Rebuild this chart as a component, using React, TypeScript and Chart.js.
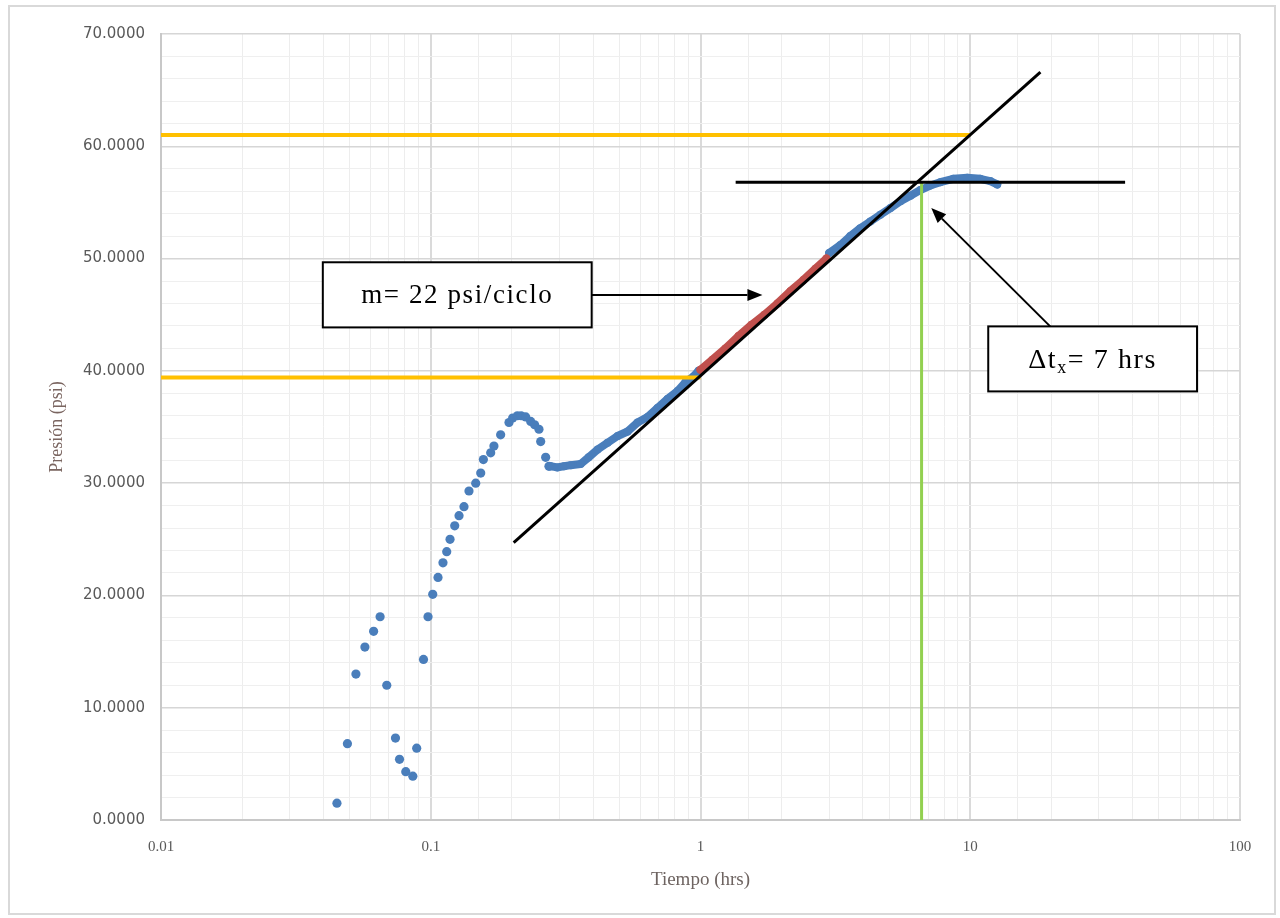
import React, { useEffect, useRef } from 'react';
import { Chart, registerables } from 'chart.js';

Chart.register(...registerables);

// ---- Data ----
// Early, scattered measurements (hrs, psi)
const earlyTime = [0.0449, 0.0491, 0.0528, 0.057, 0.0614, 0.0649, 0.0687, 0.074, 0.0766, 0.0808, 0.0858, 0.0887, 0.094, 0.0977, 0.1017, 0.1064, 0.111, 0.1146, 0.1179, 0.1227, 0.1273, 0.1328, 0.1386, 0.1468, 0.1532, 0.1567, 0.1668, 0.1715, 0.1816, 0.195, 0.2012, 0.2095, 0.2163, 0.2249, 0.2347, 0.2427, 0.2519, 0.2556, 0.2667, 0.2743];
const earlyPressure = [1.5, 6.8, 13.0, 15.4, 16.8, 18.1, 12.0, 7.3, 5.4, 4.3, 3.9, 6.4, 14.3, 18.1, 20.1, 21.6, 22.9, 23.9, 25.0, 26.2, 27.1, 27.9, 29.3, 30.0, 30.9, 32.1, 32.7, 33.3, 34.3, 35.4, 35.8, 36.0, 36.0, 35.9, 35.5, 35.2, 34.8, 33.7, 32.3, 31.5];

// Dense blue section before the straight-line period
const denseTime = [0.2783, 0.2946, 0.3117, 0.3301, 0.3594, 0.3848, 0.4155, 0.4524, 0.4929, 0.5367, 0.5843, 0.6364, 0.6928, 0.7546, 0.8219, 0.8799, 0.9421, 0.9831];
const densePressure = [31.5, 31.4, 31.5, 31.6, 31.7, 32.3, 33.0, 33.6, 34.2, 34.6, 35.4, 35.9, 36.7, 37.5, 38.2, 39.0, 39.5, 40.0];

// Red section used for the slope
const redTime = [1.0, 1.108, 1.238, 1.383, 1.545, 1.726, 1.928, 2.154, 2.406, 2.667, 2.929];
const redPressure = [40.1, 41.0, 42.0, 43.1, 44.1, 45.0, 46.0, 47.1, 48.1, 49.1, 50.0];

// Late blue section
const lateTime = [3.0, 3.3, 3.59, 3.91, 4.26, 4.64, 5.06, 5.51, 6.0, 6.53, 7.11, 7.74, 8.65, 9.75, 10.89, 11.86, 12.59];
const latePressure = [50.5, 51.2, 52.0, 52.7, 53.3, 53.9, 54.5, 55.1, 55.6, 56.1, 56.5, 56.8, 57.1, 57.2, 57.1, 56.9, 56.6];

// Straight-line fit (m = 22 psi/ciclo)
const fitTime = [0.203, 18.2];
const fitPressure = [24.7, 66.6];

// Horizontal plateau line
const plateauTime = [1.35, 37.5];
const plateauPressure = [56.8, 56.8];

// Yellow reference lines
const upperRefTime = [0.01, 10];
const upperRefPressure = [61.0, 61.0];
const lowerRefTime = [0.01, 1.0];
const lowerRefPressure = [39.4, 39.4];

// Green vertical line at Δtx
const deltaTime = [6.6, 6.6];
const deltaPressure = [0, 56.8];

// Axis ticks
const xTickLabels = [0.01, 0.1, 1, 10, 100];
const yTickLabels = [0, 10, 20, 30, 40, 50, 60, 70];

const pts = (xs: number[], ys: number[]) => xs.map((x, i) => ({ x, y: ys[i] }));

const BLUE = '#4a7ebb';
const RED = '#c0504d';
const SERIF = '"Liberation Serif", "Times New Roman", serif';

function arrow(ctx: CanvasRenderingContext2D, x1: number, y1: number, x2: number, y2: number) {
  const ang = Math.atan2(y2 - y1, x2 - x1);
  const len = 15;
  const wid = 6;
  const bx = x2 - len * Math.cos(ang);
  const by = y2 - len * Math.sin(ang);
  ctx.save();
  ctx.strokeStyle = '#000';
  ctx.fillStyle = '#000';
  ctx.lineWidth = 2;
  ctx.beginPath();
  ctx.moveTo(x1, y1);
  ctx.lineTo(bx, by);
  ctx.stroke();
  ctx.beginPath();
  ctx.moveTo(x2, y2);
  ctx.lineTo(bx + wid * Math.sin(ang), by - wid * Math.cos(ang));
  ctx.lineTo(bx - wid * Math.sin(ang), by + wid * Math.cos(ang));
  ctx.closePath();
  ctx.fill();
  ctx.restore();
}

function box(ctx: CanvasRenderingContext2D, l: number, t: number, r: number, b: number) {
  ctx.save();
  ctx.fillStyle = '#fff';
  ctx.fillRect(l, t, r - l, b - t);
  ctx.strokeStyle = '#000';
  ctx.lineWidth = 2;
  ctx.strokeRect(l, t, r - l, b - t);
  ctx.restore();
}

const annotationPlugin = {
  id: 'annotations',
  beforeDraw(chart: any) {
    const { ctx, width, height } = chart;
    ctx.save();
    ctx.fillStyle = '#fff';
    ctx.fillRect(0, 0, width, height);
    ctx.strokeStyle = '#d9d9d9';
    ctx.lineWidth = 2;
    ctx.strokeRect(9, 6, width - 14, height - 10);
    ctx.restore();
  },
  afterDatasetsDraw(chart: any) {
    const { ctx } = chart;
    const xs = chart.scales.x;
    const ys = chart.scales.y;
    const px = (v: number) => xs.getPixelForValue(v);
    const py = (v: number) => ys.getPixelForValue(v);

    // Box 1: slope
    const b1 = { l: px(0.0398), r: px(0.395), t: py(49.67), b: py(43.87) };
    arrow(ctx, b1.r, py(46.75), px(1.697), py(46.75));
    box(ctx, b1.l, b1.t, b1.r, b1.b);
    ctx.save();
    ctx.fillStyle = '#000';
    ctx.font = `27px ${SERIF}`;
    (ctx as any).letterSpacing = '1.6px';
    ctx.textAlign = 'center';
    ctx.textBaseline = 'middle';
    ctx.fillText('m= 22 psi/ciclo', (b1.l + b1.r) / 2, (b1.t + b1.b) / 2 + 1);
    ctx.restore();

    // Box 2: Δtx
    const b2 = { l: px(11.66), r: px(69.3), t: py(43.96), b: py(38.17) };
    arrow(ctx, px(19.78), b2.t, px(7.17), py(54.5));
    box(ctx, b2.l, b2.t, b2.r, b2.b);
    ctx.save();
    ctx.fillStyle = '#000';
    (ctx as any).letterSpacing = '1.6px';
    ctx.textBaseline = 'alphabetic';
    ctx.textAlign = 'left';
    const big = `28px ${SERIF}`;
    const small = `18px ${SERIF}`;
    ctx.font = big;
    const p1 = 'Δt';
    const p3 = '= 7 hrs';
    const w1 = ctx.measureText(p1).width;
    const w3 = ctx.measureText(p3).width;
    ctx.font = small;
    const w2 = ctx.measureText('x').width;
    const total = w1 + w2 + w3;
    let cx = (b2.l + b2.r) / 2 - total / 2;
    const base = (b2.t + b2.b) / 2 + 9;
    ctx.font = big;
    ctx.fillText(p1, cx, base);
    cx += w1;
    ctx.font = small;
    ctx.fillText('x', cx, base + 5);
    cx += w2;
    ctx.font = big;
    ctx.fillText(p3, cx, base);
    ctx.restore();
  },
};

const isDecade = (v: number) => {
  const l = Math.log10(v);
  return Math.abs(l - Math.round(l)) < 1e-6;
};

export default function App() {
  const canvasRef = useRef<HTMLCanvasElement | null>(null);

  useEffect(() => {
    if (!canvasRef.current) return;
    const lineDs = (label: string, data: any[], color: string, width: number, order: number) => ({
      label,
      data,
      showLine: true,
      borderColor: color,
      backgroundColor: color,
      borderWidth: width,
      pointRadius: 0,
      fill: false,
      order,
    });
    const bandDs = (label: string, data: any[], color: string, order: number) => ({
      label,
      data,
      showLine: true,
      borderColor: color,
      backgroundColor: color,
      borderWidth: 8,
      borderCapStyle: 'round',
      borderJoinStyle: 'round',
      pointRadius: 4,
      pointBorderWidth: 0,
      order,
    });
    const chart = new Chart(canvasRef.current, {
      type: 'scatter',
      data: {
        datasets: [
          lineDs('Pendiente', pts(fitTime, fitPressure), '#000', 3, 0),
          lineDs('Estabilización', pts(plateauTime, plateauPressure), '#000', 3, 0),
          lineDs('Δtx', pts(deltaTime, deltaPressure), '#92d050', 3, 1),
          lineDs('P superior', pts(upperRefTime, upperRefPressure), '#ffc000', 4, 1),
          lineDs('P inferior', pts(lowerRefTime, lowerRefPressure), '#ffc000', 4, 1),
          bandDs('Recta semilog', pts(redTime, redPressure), RED, 2),
          bandDs('Presión tardía', pts(lateTime, latePressure), BLUE, 3),
          bandDs('Presión media', pts(denseTime, densePressure), BLUE, 3),
          {
            label: 'Presión temprana',
            data: pts(earlyTime, earlyPressure),
            showLine: false,
            backgroundColor: BLUE,
            borderColor: BLUE,
            pointRadius: 4.6,
            pointBorderWidth: 0,
            order: 3,
          },
        ],
      },
      options: {
        animation: false,
        responsive: true,
        maintainAspectRatio: false,
        layout: { padding: { top: 34, right: 40, left: 0, bottom: 0 } },
        plugins: { legend: { display: false }, tooltip: { enabled: false } },
        scales: {
          x: {
            type: 'logarithmic',
            min: 0.01,
            max: 100,
            afterFit: (s: any) => {
              s.height = 98;
            },
            border: { color: '#c8c8c8', width: 2 },
            grid: {
              drawTicks: false,
              color: (c: any) => (c.tick && isDecade(c.tick.value) ? '#dadada' : '#ededed'),
              lineWidth: (c: any) => (c.tick && isDecade(c.tick.value) ? 2 : 1),
            },
            ticks: {
              autoSkip: false,
              maxRotation: 0,
              padding: 18,
              color: '#595959',
              font: { family: SERIF, size: 15 },
              callback: (v: any) => {
                const n = Number(v);
                const hit = xTickLabels.find((t) => Math.abs(t - n) / t < 1e-6);
                return hit !== undefined ? String(hit) : '';
              },
            },
            title: {
              display: true,
              text: 'Tiempo (hrs)',
              color: '#6e6461',
              font: { family: SERIF, size: 19 },
              padding: { top: 0, bottom: 27 },
            },
          },
          y: {
            type: 'linear',
            min: 0,
            max: 70,
            afterFit: (s: any) => {
              s.width = 161;
            },
            border: { color: '#c8c8c8', width: 2 },
            grid: {
              drawTicks: false,
              color: (c: any) => (c.tick && yTickLabels.includes(c.tick.value) ? '#d6d6d6' : '#efefef'),
              lineWidth: (c: any) => (c.tick && yTickLabels.includes(c.tick.value) ? 1.5 : 1),
            },
            ticks: {
              stepSize: 2,
              autoSkip: false,
              padding: 16,
              color: '#595959',
              font: { family: '"DejaVu Sans", sans-serif', size: 15 },
              callback: (v: any) => (yTickLabels.includes(Number(v)) ? Number(v).toFixed(4) : ''),
            },
            title: {
              display: true,
              text: 'Presión (psi)',
              color: '#7a6560',
              font: { family: SERIF, size: 18 },
              padding: { top: 46, bottom: 0 },
            },
          },
        },
      } as any,
      plugins: [annotationPlugin],
    });
    return () => chart.destroy();
  }, []);

  return (
    <div style={{ position: 'absolute', left: 0, top: 0, width: 1280, height: 918, background: '#fff' }}>
      <canvas ref={canvasRef} />
    </div>
  );
}
